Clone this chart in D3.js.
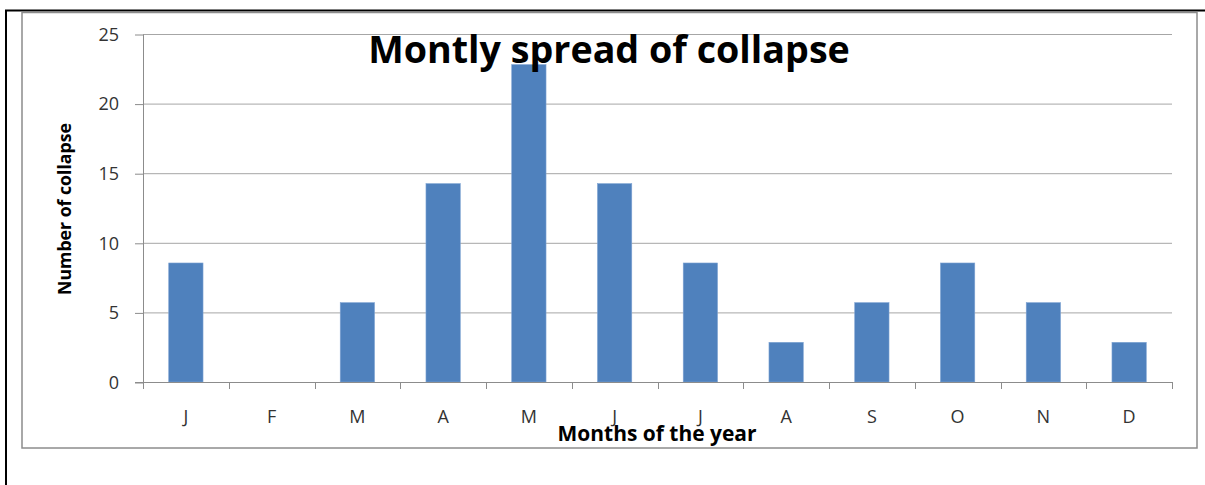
<!DOCTYPE html>
<html>
<head>
<meta charset="utf-8">
<script src="https://cdn.jsdelivr.net/npm/d3@7"></script>
<style>
  body { margin: 0; background: #fff; }
  svg { display: block; }
  text { font-family: "Open Sans", Lato, sans-serif; }
</style>
</head>
<body>
<svg id="chart" width="1205" height="485"></svg>
<script>
// data
var months = ['J','F','M','A','M','J','J','A','S','O','N','D'];
var collapses = [8.55, 0, 5.7, 14.25, 22.8, 14.25, 8.55, 2.85, 5.7, 8.55, 5.7, 2.85];
var yTicks = [0, 5, 10, 15, 20, 25];

var titleText = 'Montly spread of collapse';
var xTitle = 'Months of the year';
var yTitle = 'Number of collapse';

var svg = d3.select('#chart');

// page frame (black lines top and left)
svg.append('line').attr('x1', 5).attr('x2', 1205).attr('y1', 10.5).attr('y2', 10.5)
    .attr('stroke', '#000').attr('stroke-width', 2);
svg.append('line').attr('x1', 6).attr('x2', 6).attr('y1', 10).attr('y2', 485)
    .attr('stroke', '#000').attr('stroke-width', 2);

// chart area border
svg.append('rect').attr('x', 22).attr('y', 12.5).attr('width', 1175).attr('height', 435.5)
    .attr('fill', '#fff').attr('stroke', '#8c8c8c').attr('stroke-width', 1.5);

var plotLeft = 143, plotRight = 1172, plotTop = 34, plotBottom = 382;

var x = d3.scaleBand()
    .domain(d3.range(months.length))
    .range([plotLeft, plotRight])
    .paddingInner(0.6)
    .paddingOuter(0.3);

var y = d3.scaleLinear().domain([0, 25]).range([plotBottom, plotTop]);

// gridlines
svg.append('g').selectAll('line').data(yTicks.filter(d => d > 0)).enter()
    .append('line')
    .attr('x1', plotLeft).attr('x2', plotRight)
    .attr('y1', d => y(d) + 0.5).attr('y2', d => y(d) + 0.5)
    .attr('stroke', '#a6a6a6').attr('stroke-width', 1);

// y axis
var yAxis = d3.axisLeft(y).tickValues(yTicks).tickSize(8).tickPadding(16);
var gy = svg.append('g').attr('transform', 'translate(' + plotLeft + ',0.5)').call(yAxis);
gy.select('.domain').attr('stroke', '#8c8c8c').attr('d', 'M0.5,' + plotTop + 'V' + plotBottom);
gy.selectAll('.tick line').attr('stroke', '#8c8c8c');
gy.selectAll('.tick text').attr('fill', '#333').style('font-size', '18px')
    .style('font-family', '"Open Sans", sans-serif');

// bars
svg.append('g').selectAll('rect').data(collapses).enter()
    .append('rect')
    .attr('x', (d, i) => x(i))
    .attr('y', d => y(d))
    .attr('width', x.bandwidth())
    .attr('height', d => y(0) - y(d))
    .attr('fill', '#4f81bd')
    .attr('stroke', '#7ea3d3').attr('stroke-width', 0.6);

// x axis: ticks at category boundaries
var edges = d3.range(months.length + 1).map(i => plotLeft + (plotRight - plotLeft) * i / months.length);
var gx = svg.append('g');
gx.append('line').attr('x1', plotLeft - 8).attr('x2', plotRight)
    .attr('y1', plotBottom + 0.5).attr('y2', plotBottom + 0.5)
    .attr('stroke', '#8c8c8c');
gx.selectAll('line.tk').data(edges).enter().append('line').attr('class', 'tk')
    .attr('x1', d => Math.round(d) + 0.5).attr('x2', d => Math.round(d) + 0.5)
    .attr('y1', plotBottom).attr('y2', plotBottom + 7)
    .attr('stroke', '#8c8c8c');
gx.selectAll('text').data(months).enter().append('text')
    .attr('x', (d, i) => x(i) + x.bandwidth() / 2)
    .attr('y', 423)
    .attr('text-anchor', 'middle')
    .attr('fill', '#333')
    .style('font-size', '18px')
    .text(d => d);

// titles
var t = svg.append('text')
    .attr('x', 609).attr('y', 63)
    .attr('text-anchor', 'middle')
    .style('font-weight', 'bold').style('font-size', '30px')
    .attr('fill', '#000')
    .text(titleText);
var tw = t.node().getComputedTextLength();
t.style('font-size', (30 * 482 / tw) + 'px');

var xt = svg.append('text')
    .attr('x', 657).attr('y', 441)
    .attr('text-anchor', 'middle')
    .style('font-weight', 'bold').style('font-size', '16px')
    .attr('fill', '#000')
    .text(xTitle);
var xw = xt.node().getComputedTextLength();
xt.style('font-size', (16 * 199 / xw) + 'px');

var yt = svg.append('text')
    .attr('transform', 'translate(71,209) rotate(-90)')
    .attr('text-anchor', 'middle')
    .style('font-weight', 'bold').style('font-size', '16px')
    .attr('fill', '#000')
    .text(yTitle);
var yw = yt.node().getComputedTextLength();
yt.style('font-size', (16 * 172 / yw) + 'px');
</script>
</body>
</html>
